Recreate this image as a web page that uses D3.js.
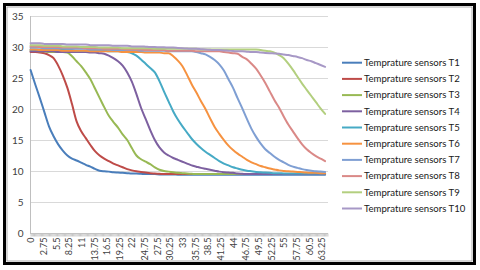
<!DOCTYPE html>
<html><head><meta charset="utf-8">
<script src="https://cdn.jsdelivr.net/npm/d3@7"></script>
<style>body{margin:0;background:#fff}svg{display:block}</style>
</head><body>
<svg id="c" width="480" height="270"></svg>
<script>
// Category axis: 0 .. 64.5 step 0.25 (259 categories)
const categories = d3.range(0, 64.75, 0.25);
// Sample times at which series values were read (every 1.0)
const sampleTimes = d3.range(0, 65, 1);
const yTicks = [0, 5, 10, 15, 20, 25, 30, 35];
const seriesNames = ["Temprature sensors T1","Temprature sensors T2","Temprature sensors T3","Temprature sensors T4","Temprature sensors T5","Temprature sensors T6","Temprature sensors T7","Temprature sensors T8","Temprature sensors T9","Temprature sensors T10"];
const seriesColors = ["#4A7EBB","#BE4B48","#98B954","#7D60A0","#46AAC5","#F69240","#7F9FD3","#DA8987","#B3CF7F","#A798C6"];

const T1 = [26.3,24.0,21.8,19.5,17.2,15.6,14.3,13.3,12.5,12.0,
 11.7,11.35,11.0,10.7,10.35,10.05,9.95,9.9,9.8,9.75,
 9.7,9.65,9.6,9.6,9.55,9.5,9.5,9.5,9.45,9.45,
 9.45,9.45,9.4,9.4,9.4,9.4,9.4,9.4,9.4,9.4,
 9.4,9.4,9.4,9.4,9.4,9.4,9.4,9.4,9.4,9.4,
 9.4,9.4,9.4,9.4,9.4,9.4,9.4,9.4,9.4,9.4,
 9.4,9.4,9.4,9.4,9.4];
const T2 = [29.2,29.2,29.1,29.0,28.7,28.2,27.0,25.4,23.4,20.8,
 18.0,16.4,15.3,14.2,13.2,12.5,12.0,11.6,11.2,10.9,
 10.6,10.3,10.1,9.95,9.85,9.75,9.65,9.6,9.55,9.5,
 9.5,9.5,9.5,9.5,9.5,9.5,9.5,9.5,9.5,9.5,
 9.5,9.5,9.5,9.5,9.5,9.5,9.5,9.5,9.5,9.5,
 9.5,9.5,9.5,9.5,9.5,9.5,9.5,9.5,9.5,9.5,
 9.5,9.5,9.5,9.5,9.5];
const T3 = [29.4,29.4,29.3,29.3,29.2,29.2,29.2,29.2,29.1,28.5,
 27.7,26.9,25.9,24.8,23.3,21.8,20.3,18.9,17.9,17.0,
 15.9,15.0,13.7,12.5,11.9,11.5,11.1,10.6,10.2,10.0,
 9.9,9.8,9.7,9.65,9.6,9.55,9.5,9.5,9.5,9.5,
 9.5,9.5,9.5,9.5,9.5,9.5,9.5,9.5,9.5,9.5,
 9.5,9.5,9.5,9.5,9.5,9.5,9.5,9.5,9.5,9.5,
 9.5,9.5,9.5,9.5,9.5];
const T4 = [29.3,29.3,29.3,29.3,29.3,29.3,29.2,29.2,29.2,29.2,
 29.2,29.2,29.2,29.1,29.1,29.0,28.9,28.6,28.2,27.7,
 27.0,25.9,24.4,22.4,20.2,18.4,16.6,15.0,13.8,13.0,
 12.5,12.1,11.8,11.5,11.2,10.9,10.7,10.5,10.35,10.2,
 10.05,9.9,9.8,9.75,9.7,9.6,9.55,9.5,9.5,9.5,
 9.5,9.5,9.5,9.5,9.5,9.5,9.5,9.5,9.5,9.5,
 9.5,9.5,9.5,9.5,9.5];
const T5 = [29.6,29.6,29.6,29.6,29.5,29.5,29.5,29.5,29.5,29.5,
 29.4,29.4,29.4,29.4,29.4,29.4,29.4,29.3,29.3,29.3,
 29.3,29.2,29.0,28.6,28.0,27.3,26.6,25.9,24.5,22.8,
 21.2,19.6,18.3,17.2,16.2,15.2,14.4,13.7,13.1,12.6,
 12.1,11.6,11.2,10.9,10.6,10.4,10.2,10.05,9.95,9.85,
 9.8,9.75,9.7,9.65,9.65,9.6,9.6,9.6,9.6,9.6,
 9.6,9.6,9.6,9.6,9.6];
const T6 = [29.6,29.6,29.5,29.5,29.5,29.5,29.5,29.4,29.4,29.4,
 29.4,29.4,29.4,29.3,29.3,29.3,29.3,29.3,29.3,29.3,
 29.2,29.2,29.2,29.2,29.2,29.1,29.1,29.1,29.1,29.0,
 29.0,28.5,27.8,26.9,25.5,24.0,22.7,21.3,20.0,18.5,
 17.1,16.0,15.0,14.1,13.4,12.8,12.3,11.8,11.4,11.1,
 10.8,10.6,10.4,10.25,10.1,10.0,9.95,9.9,9.85,9.8,
 9.75,9.7,9.7,9.65,9.65];
const T7 = [29.9,29.9,29.9,29.8,29.8,29.8,29.8,29.8,29.7,29.7,
 29.7,29.7,29.7,29.6,29.6,29.6,29.6,29.6,29.5,29.5,
 29.5,29.5,29.5,29.5,29.4,29.4,29.4,29.4,29.4,29.4,
 29.3,29.3,29.3,29.3,29.3,29.3,29.2,29.0,28.8,28.4,
 27.9,27.2,26.2,24.8,23.4,21.7,20.1,18.4,16.8,15.5,
 14.4,13.5,12.9,12.3,11.8,11.4,11.0,10.7,10.5,10.3,
 10.15,10.05,9.95,9.9,9.85];
const T8 = [30.1,30.1,30.0,30.0,30.0,30.0,30.0,29.9,29.9,29.9,
 29.9,29.9,29.8,29.8,29.8,29.8,29.7,29.7,29.7,29.7,
 29.7,29.6,29.6,29.6,29.6,29.5,29.5,29.5,29.5,29.5,
 29.4,29.4,29.4,29.4,29.4,29.4,29.3,29.3,29.3,29.3,
 29.3,29.3,29.2,29.1,29.0,28.9,28.4,28.0,27.3,26.5,
 25.4,24.2,22.8,21.4,20.2,18.8,17.5,16.4,15.3,14.3,
 13.5,12.9,12.4,12.0,11.6];
const T9 = [30.3,30.3,30.3,30.2,30.2,30.2,30.2,30.1,30.1,30.1,
 30.1,30.0,30.0,30.0,30.0,29.9,29.9,29.9,29.9,29.9,
 29.8,29.8,29.8,29.8,29.8,29.8,29.8,29.7,29.7,29.7,
 29.7,29.7,29.7,29.7,29.7,29.7,29.7,29.6,29.6,29.6,
 29.6,29.6,29.6,29.6,29.6,29.6,29.6,29.6,29.6,29.6,
 29.5,29.4,29.3,29.1,28.7,28.2,27.3,26.3,25.2,24.1,
 23.1,22.1,21.1,20.1,19.2];
const T10 = [30.6,30.6,30.6,30.5,30.5,30.5,30.5,30.5,30.4,30.4,
 30.4,30.4,30.4,30.3,30.3,30.3,30.3,30.3,30.2,30.2,
 30.2,30.2,30.1,30.1,30.1,30.05,30.0,30.0,29.95,29.95,
 29.9,29.9,29.85,29.8,29.75,29.7,29.7,29.65,29.6,29.55,
 29.5,29.5,29.45,29.4,29.35,29.3,29.3,29.25,29.2,29.2,
 29.1,29.05,29.0,28.95,28.9,28.8,28.7,28.55,28.4,28.2,
 27.9,27.7,27.4,27.1,26.8];
const seriesValues = [T1,T2,T3,T4,T5,T6,T7,T8,T9,T10];

const svg = d3.select("#c");
const FONT = "Lato, 'Liberation Sans', Arial, sans-serif";

// frame
svg.append("rect").attr("x",0).attr("y",0).attr("width",480).attr("height",270).attr("fill","#fff");
svg.append("rect").attr("x",4.5).attr("y",4.5).attr("width",470).attr("height",259)
  .attr("fill","none").attr("stroke","#000").attr("stroke-width",3);
svg.append("rect").attr("x",7).attr("y",7).attr("width",465).attr("height",254)
  .attr("fill","none").attr("stroke","#9a9a9a").attr("stroke-width",0.8);

const x = d3.scalePoint().domain(categories.map((d,i)=>i)).range([30,328]).padding(0.5);
const y = d3.scaleLinear().domain([0,35]).range([233,16]);

// gridlines
svg.append("g").selectAll("line").data(yTicks.filter(v=>v>0)).join("line")
  .attr("x1",30).attr("x2",328).attr("y1",d=>Math.round(y(d))+0.5).attr("y2",d=>Math.round(y(d))+0.5)
  .attr("stroke","#d9d9d9").attr("stroke-width",1);

// y axis
const ya = svg.append("g").attr("transform","translate(30.5,0)")
  .call(d3.axisLeft(y).tickValues(yTicks).tickSize(0).tickPadding(7).tickFormat(d3.format("d")));
ya.select(".domain").attr("stroke","#bfbfbf").attr("d","M0,16V233");
ya.selectAll("text").attr("font-family",FONT).attr("font-size","10px").attr("fill","#404040");

// x axis
const xa = svg.append("g").attr("transform","translate(0,233.5)")
  .call(d3.axisBottom(x).tickValues(categories.map((d,i)=>i)).tickSize(3)
    .tickFormat(i => i % 11 === 0 ? String(categories[i]) : ""));
xa.select(".domain").attr("stroke","#bfbfbf").attr("d","M30,0H328");
xa.selectAll(".tick line").attr("stroke","#c8c8c8");
xa.selectAll("text").attr("font-family",FONT).attr("font-size","9px").attr("fill","#404040")
  .attr("transform","rotate(-90)").attr("text-anchor","end").attr("dy","0.35em").attr("x",-4).attr("y",0);

// lines
const line = d3.line().x((d,i)=>x(sampleTimes[i]*4)).y(d=>y(d)).curve(d3.curveMonotoneX);
svg.append("g").selectAll("path").data(seriesValues).join("path")
  .attr("d",line).attr("fill","none").attr("stroke",(d,i)=>seriesColors[i])
  .attr("stroke-width",2).attr("stroke-linejoin","round").attr("stroke-linecap","round");

// legend
const lg = svg.append("g").selectAll("g").data(seriesNames).join("g")
  .attr("transform",(d,i)=>`translate(342,${62.7+16.2*i})`);
lg.append("line").attr("x1",0).attr("x2",20).attr("stroke",(d,i)=>seriesColors[i]).attr("stroke-width",2);
lg.append("text").attr("x",22).attr("dy","0.35em").attr("font-family",FONT).attr("font-size","9.6px")
  .attr("fill","#202020").text(d=>d);
</script>
</body></html>
